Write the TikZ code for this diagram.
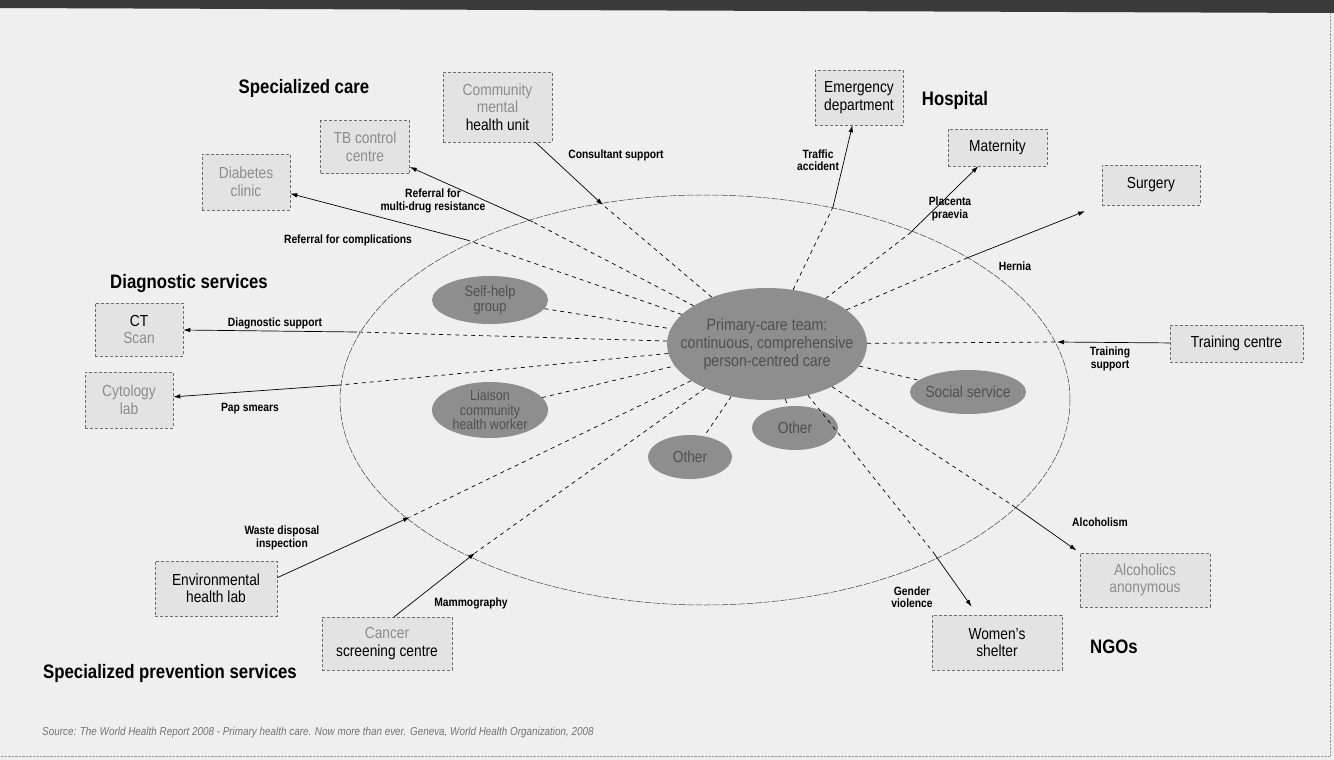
\documentclass[tikz,border=0pt]{standalone}
\usepackage{fontspec}
\setmainfont{Liberation Sans}[FakeStretch=0.86]
\usetikzlibrary{shapes.geometric,arrows.meta}
\definecolor{bg}{HTML}{EFEFEF}
\definecolor{boxfill}{HTML}{E3E3E3}
\definecolor{boxline}{HTML}{6E6E6E}
\definecolor{ellfill}{HTML}{8E8E8E}
\definecolor{elltext}{HTML}{505050}
\definecolor{graytext}{HTML}{8C8C8C}
\definecolor{band}{HTML}{3A3A3A}
\begin{document}
\begin{tikzpicture}[x=1pt,y=-1pt,
  box/.style={draw=boxline, fill=boxfill, densely dashed, line width=0.5pt, align=center,
    font=\fontsize{16}{17.5}\selectfont, inner sep=1pt},
  head/.style={font=\fontsize{19.5}{21}\selectfont\bfseries, inner sep=0pt},
  lab/.style={font=\fontsize{12}{12.5}\selectfont\bfseries, align=center, inner sep=0pt},
  arr/.style={-{Latex[length=7pt,width=4.5pt]}, line width=0.7pt},
  dsh/.style={dash pattern=on 4pt off 4pt, line width=0.7pt},
  inell/.style={ellipse, fill=ellfill, inner sep=0pt},
  elltxt/.style={text=elltext, align=center, inner sep=0pt},
  bigell/.style={draw=black!75, line width=0.5pt, dash pattern=on 7pt off 1.5pt}
]
\useasboundingbox (0,0) rectangle (1334,760);
\fill[bg] (0,0) rectangle (1334,760);
\fill[band] (0,0) -- (1334,0) -- (1334,13) -- (0,8) -- cycle;
\draw[black!40, densely dotted, line width=0.4pt] (1330,13) -- (1330,756) -- (0,756);

% big ellipse
\draw[bigell] (705,400) ellipse [x radius=365, y radius=205];

% headings
\node[head] (hspec) at (304,88) {Specialized care};
\node[head] (hhosp) at (955,100) {Hospital};
\node[head] (hdiag) at (189,283) {Diagnostic services};
\node[head] (hprev) at (170,673) {Specialized prevention services};
\node[head] (hngo) at (1114,647) {NGOs};

% boxes
\node[box, minimum width=109, minimum height=70] (cmhu) at (497.5,107)
  {\textcolor{graytext}{Community}\\\textcolor{graytext}{mental}\\health unit};
\node[box, minimum width=89, minimum height=53] (tb) at (365,147)
  {\textcolor{graytext}{TB control}\\\textcolor{graytext}{centre}};
\node[box, minimum width=88, minimum height=56] (diab) at (246,182)
  {\textcolor{graytext}{Diabetes}\\\textcolor{graytext}{clinic}};
\node[box, minimum width=88, minimum height=55] (emerg) at (859,97.5)
  {Emergency\\department};
\node[box, minimum width=99, minimum height=37] (mat) at (997.5,147.5) {Maternity};
\node[box, minimum width=98, minimum height=40] (surg) at (1151,185) {Surgery};
\node[box, minimum width=88, minimum height=53] (ct) at (139,329.5)
  {CT\\\textcolor{graytext}{Scan}};
\node[box, minimum width=88, minimum height=56] (cyto) at (129,400)
  {\textcolor{graytext}{Cytology}\\\textcolor{graytext}{lab}};
\node[box, minimum width=133, minimum height=37] (train) at (1236.5,343.5) {Training centre};
\node[box, minimum width=122, minimum height=55] (env) at (216,588.5)
  {Environmental\\health lab};
\node[box, minimum width=130, minimum height=53] (cancer) at (387,643.5)
  {\textcolor{graytext}{Cancer}\\screening centre};
\node[box, minimum width=130, minimum height=55] (women) at (997,642.5)
  {Women's\\shelter};
\node[box, minimum width=130, minimum height=54] (aa) at (1145,580)
  {\textcolor{graytext}{Alcoholics}\\\textcolor{graytext}{anonymous}};

% inner ellipses
\node[inell, minimum width=200, minimum height=112] (pc) at (767,344) {};
\node[elltxt, font=\fontsize{16.5}{18}\selectfont] (pct) at (pc.center)
  {Primary-care team:\\continuous, comprehensive\\person-centred care};
\node[inell, minimum width=116, minimum height=48] (sh) at (490,300) {};
\node[elltxt, font=\fontsize{15}{15.5}\selectfont] (sht) at (sh.center) {Self-help\\group};
\node[inell, minimum width=116, minimum height=56] (li) at (490,410) {};
\node[elltxt, font=\fontsize{14.5}{14.5}\selectfont] (lit) at (li.center)
  {Liaison\\community\\health worker};
\node[inell, minimum width=84, minimum height=44] (o1) at (690,457) {};
\node[elltxt, font=\fontsize{16}{17}\selectfont] (o1t) at (o1.center) {Other};
\node[inell, minimum width=86, minimum height=44] (o2) at (795,428) {};
\node[elltxt, font=\fontsize{16}{17}\selectfont] (o2t) at (o2.center) {Other};
\node[inell, minimum width=116, minimum height=44] (ss) at (968,392) {};
\node[elltxt, font=\fontsize{16}{17}\selectfont] (sst) at (ss.center) {Social service};

% crossing points on the big ellipse
\coordinate (xCons) at (603,205);
\coordinate (xTB) at (533,222);
\coordinate (xDia) at (467,240);
\coordinate (xCT) at (357,332);
\coordinate (xCy) at (340,385);
\coordinate (xEnv) at (410,517);
\coordinate (xMam) at (475,553);
\coordinate (xTr) at (833,207);
\coordinate (xPl) at (910,233);
\coordinate (xHe) at (967,258);
\coordinate (xTrn) at (1057,342);
\coordinate (xAl) at (1012,505);
\coordinate (xGe) at (933,552);

% dashed inner connectors
\foreach \p in {xCons,xTB,xDia,xCT,xCy,xEnv,xMam,xTr,xPl,xHe,xTrn,xAl,xGe}
  \draw[dsh] (pc) -- (\p);
\draw[dsh] (sh) -- (pc);
\draw[dsh] (li) -- (pc);
\draw[dsh] (pc) -- (o1);
\draw[dsh] (pc) -- (o2);
\draw[dsh] (pc) -- (ss);

% solid arrows
\draw[arr] (cmhu) -- (xCons);
\draw[arr] (xTB) -- (tb);
\draw[arr] (xDia) -- (diab);
\draw[arr] (xCT) -- (ct);
\draw[arr] (xCy) -- (cyto);
\draw[arr] (env.10) -- (xEnv);
\draw[arr] (cancer.75) -- (xMam);
\draw[arr] (xTr) -- (emerg);
\draw[arr] (xPl) -- (mat);
\draw[arr, shorten >=18pt] (xHe) -- (surg);
\draw[arr] (train) -- (xTrn);
\draw[arr, shorten >=4pt] (xAl) -- (aa.north west);
\draw[arr, shorten >=10pt] (xGe) -- (women);

% connector labels
\node[lab] (lCons) at (616,155) {Consultant support};
\node[lab] (lTB) at (433,201) {Referral for\\multi-drug resistance};
\node[lab] (lDia) at (348,240) {Referral for complications};
\node[lab] (lCT) at (275,323) {Diagnostic support};
\node[lab] (lCy) at (250,409) {Pap smears};
\node[lab] (lEnv) at (282,538) {Waste disposal\\inspection};
\node[lab] (lMam) at (471,603) {Mammography};
\node[lab] (lTr) at (818,160) {Traffic\\accident};
\node[lab] (lPl) at (950,209) {Placenta\\praevia};
\node[lab] (lHe) at (1015,266) {Hernia};
\node[lab] (lTrn) at (1110,359) {Training\\support};
\node[lab] (lAl) at (1100,522) {Alcoholism};
\node[lab] (lGe) at (912,597) {Gender\\violence};

% source
\node[anchor=west, font=\fontsize{11.5}{12}\selectfont\itshape, text=black!55, inner sep=0pt] (src) at (42,733)
  {Source: The World Health Report 2008 - Primary health care. Now more than ever. Geneva, World Health Organization, 2008};
\end{tikzpicture}
\end{document}
